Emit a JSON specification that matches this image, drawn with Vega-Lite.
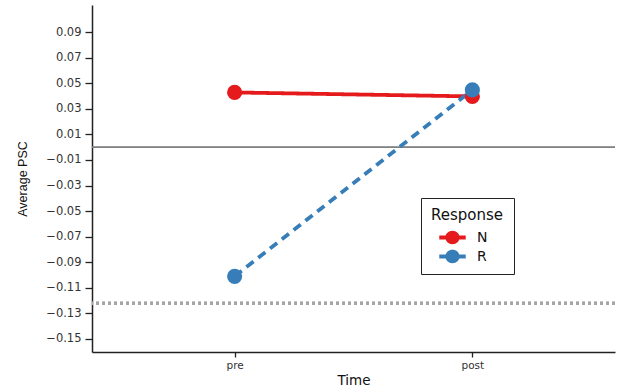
{
  "$schema": "https://vega.github.io/schema/vega-lite/v6.json",
  "autosize": {"type": "none"},
  "padding": {"left": 92, "top": 5, "right": 27, "bottom": 40},
  "width": 523,
  "height": 347,
  "background": "white",
  "config": {
    "view": {"stroke": null},
    "font": "DejaVu Sans",
    "axis": {"grid": false, "labelOverlap": false, "domainColor": "#222", "domainWidth": 1.5, "tickColor": "#222", "tickWidth": 1.3, "tickSize": 7, "labelFont": "DejaVu Sans", "labelFontSize": 11.5, "labelColor": "#333", "titleFont": "DejaVu Sans", "titleFontWeight": "normal", "titleColor": "#111"}
  },
  "data": {
    "values": [
      {"Time": "pre", "Response": "N", "PSC": 0.0428},
      {"Time": "post", "Response": "N", "PSC": 0.0397},
      {"Time": "pre", "Response": "R", "PSC": -0.101},
      {"Time": "post", "Response": "R", "PSC": 0.0448}
    ]
  },
  "layer": [
    {
      "mark": {"type": "rule", "color": "#808080", "strokeWidth": 1},
      "encoding": {"y": {"datum": 0, "type": "quantitative"}}
    },
    {
      "mark": {"type": "rule", "color": "#a6a6a6", "strokeWidth": 3, "strokeDash": [3, 3]},
      "encoding": {"y": {"datum": -0.122, "type": "quantitative"}}
    },
    {
      "mark": {"type": "line", "strokeWidth": 3.8},
      "encoding": {
        "x": {"field": "Time", "type": "nominal", "sort": ["pre", "post"], "scale": {"type": "point", "padding": 0.6}, "axis": {"title": "Time", "labelAngle": 0, "titleFontSize": 13.5, "labelFontSize": 10.5, "labelPadding": 3, "titlePadding": 3, "tickSize": 5}},
        "y": {"field": "PSC", "type": "quantitative", "scale": {"domain": [-0.1602, 0.1112], "nice": false, "zero": false}, "axis": {"title": "Average PSC", "labelOverlap": false, "tickCount": 20, "values": [0.09, 0.07, 0.05, 0.03, 0.01, -0.01, -0.03, -0.05, -0.07, -0.09, -0.11, -0.13, -0.15], "format": ".2f", "titleFont": "Liberation Sans", "titleFontSize": 12.5, "titlePadding": 16, "labelPadding": 4}},
        "color": {"field": "Response", "type": "nominal", "scale": {"domain": ["N", "R"], "range": ["#E41A1C", "#377EB8"]}, "legend": {
          "title": "Response",
          "orient": "none",
          "legendX": 329,
          "legendY": 193,
          "strokeColor": "#222",
          "padding": 10,
          "titleFontSize": 15,
          "titleFontWeight": "normal",
          "titleFont": "DejaVu Sans",
          "titleColor": "#111",
          "titleAlign": "left",
          "titlePadding": 3,
          "labelFontSize": 14,
          "labelFont": "DejaVu Sans",
          "labelColor": "#111",
          "labelOffset": 13,
          "symbolOffset": 10,
          "symbolType": "M-1.15,-0.17H1.15V0.17H-1.15Z M-0.62,0 A0.62,0.58 0 1,1 0.62,0 A0.62,0.58 0 1,1 -0.62,0Z",
          "symbolSize": 529,
          "symbolOpacity": 1,
          "symbolStrokeWidth": 0,
          "rowPadding": 0,
          "offset": 0
        }},
        "strokeDash": {"field": "Response", "type": "nominal", "scale": {"domain": ["N", "R"], "range": [[1, 0], [9, 6]]}, "legend": null}
      }
    },
    {
      "mark": {"type": "point", "filled": true, "opacity": 1, "size": 230},
      "encoding": {
        "x": {"field": "Time", "type": "nominal", "sort": ["pre", "post"]},
        "y": {"field": "PSC", "type": "quantitative"},
        "color": {"field": "Response", "type": "nominal"}
      }
    }
  ]
}
